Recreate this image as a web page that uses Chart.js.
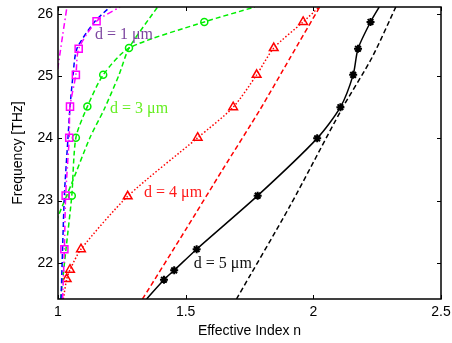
<!DOCTYPE html>
<html>
<head>
<meta charset="utf-8">
<script src="https://cdn.jsdelivr.net/npm/chart.js@4"></script>
<style>
  html, body { margin: 0; padding: 0; background: #fff; }
  canvas { display: block; }
</style>
</head>
<body>
<canvas id="modeChart" width="452" height="343"></canvas>
<script>
// ---- data (frequency in THz, effective index n) ----
const xTicks = [1, 1.5, 2, 2.5];
const yTicks = [22, 23, 24, 25, 26];

// d = 1 um
const d1Freq   = [21.42, 22.22, 23.08, 24.01, 24.51, 25.02, 25.44, 25.88, 26.11];
const d1N      = [1.018, 1.025, 1.030, 1.044, 1.047, 1.070, 1.081, 1.151, 1.243];
const d1ApxFreq = [21.42, 23.08, 24.00, 24.50, 25.02, 25.44, 25.88, 26.11];
const d1ApxN    = [1.012, 1.025, 1.039, 1.047, 1.059, 1.074, 1.145, 1.204];
const edgeFreq = [24.90, 25.15, 25.37, 25.65, 26.11];
const edgeN    = [0.990, 1.000, 1.008, 1.018, 1.035];

// d = 3 um
const d3Freq   = [21.42, 22.21, 23.08, 24.01, 24.51, 25.02, 25.45, 25.87, 26.11];
const d3N      = [1.010, 1.031, 1.054, 1.070, 1.115, 1.177, 1.278, 1.573, 1.771];
const d3ApxFreq = [22.55, 22.74, 23.29, 24.01, 24.46, 25.02, 25.45, 26.11];
const d3ApxN    = [0.985, 1.000, 1.055, 1.125, 1.180, 1.239, 1.278, 1.390];

// d = 4 um
const d4Freq   = [21.42, 21.74, 21.89, 22.22, 23.07, 24.01, 24.50, 25.02, 25.45, 25.87, 26.11];
const d4N      = [1.021, 1.034, 1.047, 1.090, 1.273, 1.547, 1.686, 1.778, 1.845, 1.960, 2.023];
const d4ApxFreq = [21.42, 22.56, 23.50, 24.46, 25.30, 26.11];
const d4ApxN    = [1.331, 1.504, 1.645, 1.791, 1.910, 2.025];

// d = 5 um
const d5Freq   = [21.42, 21.73, 21.88, 22.22, 23.08, 24.00, 24.50, 25.02, 25.44, 25.87, 26.11];
const d5N      = [1.347, 1.415, 1.455, 1.543, 1.782, 2.015, 2.106, 2.156, 2.175, 2.224, 2.258];
const d5ApxFreq = [21.42, 22.91, 24.46, 25.30, 26.11];
const d5ApxN    = [1.699, 1.908, 2.110, 2.230, 2.323];

const labelText = ['d = 1 \u03bcm', 'd = 3 \u03bcm', 'd = 4 \u03bcm', 'd = 5 \u03bcm'];
const labelN    = [1.145, 1.204, 1.337, 1.532];
const labelFreq = [25.67, 24.47, 23.13, 21.99];
const labelColor = ['#7d46a0', '#66ee22', '#ff1a1a', '#111111'];

function pts(fs, ns) { return fs.map((f, i) => ({ x: ns[i], y: f })); }
// marker on every point except the two curve ends
function inner(arr, r) { return arr.map((_, i) => (i === 0 || i === arr.length - 1) ? 0 : r); }

const datasets = [
  { data: pts(d1Freq, d1N), borderColor: '#ff00ff', borderDash: [6, 3, 1.5, 3],
    pointStyle: 'rect', pointRadius: inner(d1Freq, 5), pointBorderColor: '#ff00ff' },
  { data: pts(d1ApxFreq, d1ApxN), borderColor: '#0000ff', borderDash: [5, 3], pointRadius: 0 },
  { data: pts(edgeFreq, edgeN), borderColor: '#ff00ff', borderDash: [6, 3, 1.5, 3], pointRadius: 0 },
  { data: pts(d3Freq, d3N), borderColor: '#00ee00', borderDash: [5, 3],
    pointStyle: 'circle', pointRadius: d3Freq.map((_, i) => (i < 2 || i === d3Freq.length - 1) ? 0 : 3.5),
    pointBorderColor: '#00ee00' },
  { data: pts(d3ApxFreq, d3ApxN), borderColor: '#00ee00', borderDash: [5, 3], pointRadius: 0 },
  { data: pts(d4Freq, d4N), borderColor: '#ff0000', borderDash: [1.5, 2],
    pointStyle: 'triangle', pointRadius: inner(d4Freq, 5), pointBorderColor: '#ff0000' },
  { data: pts(d4ApxFreq, d4ApxN), borderColor: '#ff0000', borderDash: [5, 3], pointRadius: 0 },
  { data: pts(d5Freq, d5N), borderColor: '#000000',
    pointStyle: 'star', pointRadius: inner(d5Freq, 4), pointBorderColor: '#000000', pointBorderWidth: 2 },
  { data: pts(d5ApxFreq, d5ApxN), borderColor: '#000000', borderDash: [5, 3], pointRadius: 0 }
].map(ds => Object.assign({
  showLine: true, fill: false, borderWidth: 1.5, tension: 0.25,
  pointBackgroundColor: 'rgba(0,0,0,0)', pointBorderWidth: 1.5
}, ds));

// box, inward ticks on all four sides, and the d = ... labels
const framePlugin = {
  id: 'frame',
  afterDraw(chart) {
    const { ctx, chartArea: a, scales } = chart;
    const xs = scales.x, ys = scales.y;
    ctx.save();
    ctx.strokeStyle = '#000';
    ctx.lineWidth = 1.5;
    ctx.strokeRect(a.left, a.top, a.right - a.left, a.bottom - a.top);
    ctx.lineWidth = 1;
    ctx.beginPath();
    xTicks.forEach(v => {
      const px = Math.round(xs.getPixelForValue(v)) + 0.5;
      ctx.moveTo(px, a.bottom); ctx.lineTo(px, a.bottom - 4);
      ctx.moveTo(px, a.top); ctx.lineTo(px, a.top + 4);
    });
    yTicks.forEach(v => {
      const py = Math.round(ys.getPixelForValue(v)) + 0.5;
      ctx.moveTo(a.left, py); ctx.lineTo(a.left + 4, py);
      ctx.moveTo(a.right, py); ctx.lineTo(a.right - 4, py);
    });
    ctx.stroke();

    ctx.font = '16px "Liberation Serif", "Times New Roman", serif';
    ctx.textAlign = 'left';
    ctx.textBaseline = 'middle';
    labelText.forEach((t, i) => {
      ctx.fillStyle = labelColor[i];
      ctx.fillText(t, xs.getPixelForValue(labelN[i]), ys.getPixelForValue(labelFreq[i]));
    });
    ctx.restore();
  }
};

const tickFont = { family: '"Liberation Sans", Arial, sans-serif', size: 14 };

new Chart(document.getElementById('modeChart'), {
  type: 'scatter',
  data: { datasets },
  options: {
    responsive: false,
    animation: false,
    layout: { padding: { top: 7, right: 11, left: 0, bottom: 0 } },
    plugins: { legend: { display: false }, tooltip: { enabled: false } },
    scales: {
      x: {
        type: 'linear', min: 1, max: 2.5,
        grid: { display: false, drawTicks: false },
        border: { display: false },
        afterBuildTicks: s => { s.ticks = xTicks.map(v => ({ value: v })); },
        afterFit: s => { s.height = 44; s.paddingLeft = 0; s.paddingRight = 0; },
        ticks: { color: '#000', font: tickFont, padding: 5, maxRotation: 0, callback: v => String(v) },
        title: { display: true, text: 'Effective Index n', color: '#000', font: tickFont, padding: { top: 0, bottom: 3 } }
      },
      y: {
        type: 'linear', min: 21.42, max: 26.11,
        grid: { display: false, drawTicks: false },
        border: { display: false },
        afterBuildTicks: s => { s.ticks = yTicks.map(v => ({ value: v })); },
        afterFit: s => { s.width = 58; s.paddingTop = 0; s.paddingBottom = 0; },
        ticks: { color: '#000', font: tickFont, padding: 5, callback: v => String(v) },
        title: { display: true, text: 'Frequency [THz]', color: '#000', font: tickFont, padding: { top: 10, bottom: 0 } }
      }
    }
  },
  plugins: [framePlugin]
});
</script>
</body>
</html>
